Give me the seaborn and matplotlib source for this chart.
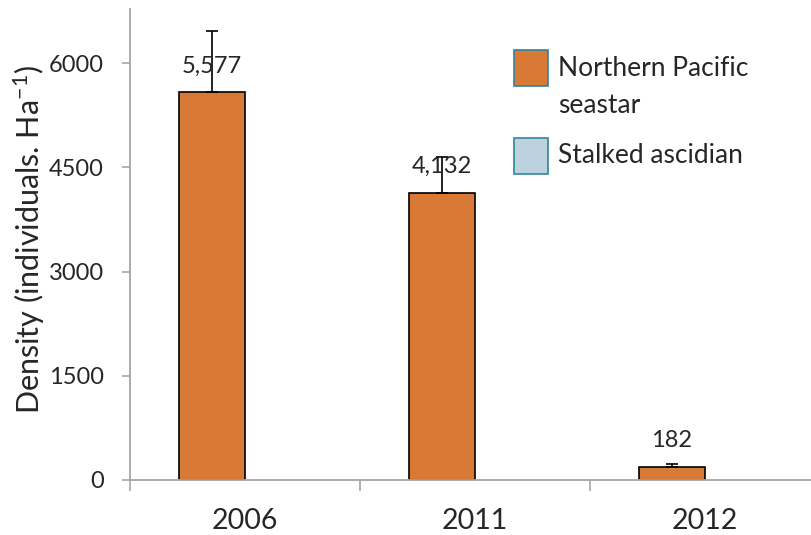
import matplotlib
matplotlib.use("Agg")
import matplotlib.pyplot as plt
import seaborn as sns
import pandas as pd
import numpy as np
from matplotlib.patches import Rectangle

years = ["2006", "2011", "2012"]
seastar = [5577, 4132, 182]
seastar_err = [880, 520, 45]
ascidian = [np.nan, np.nan, np.nan]  # no ascidian bars drawn in the source chart
series = ["Northern Pacific\nseastar", "Stalked ascidian"]
series_colors = ["#D87A35", "#BCD3DF"]

sns.set_style("white")
plt.rcParams["font.family"] = ["Lato", "DejaVu Sans"]
plt.rcParams["mathtext.default"] = "regular"

df = pd.DataFrame({
    "Year": years * 2,
    "Density": seastar + ascidian,
    "Species": [series[0]] * 3 + [series[1]] * 3,
})

W, H = 811, 535
fig = plt.figure(figsize=(W / 100, H / 100), dpi=100)
ax = fig.add_axes([130 / W, 55 / H, 690 / W, 471 / H])

sns.barplot(data=df, x="Year", y="Density", hue="Species", hue_order=series,
            palette=series_colors, width=0.574, edgecolor="black", linewidth=1.2,
            saturation=1, errorbar=None, legend=False, ax=ax)

# error bars sit on the seastar bars (left half of each group)
bar_x = [p.get_x() + p.get_width() / 2 for p in ax.patches[:len(years)]]
ax.errorbar(bar_x, seastar, yerr=[[0] * len(years), seastar_err],
            fmt="none", ecolor="black", elinewidth=1.2, capsize=4.3, capthick=1.2)

for x, v in zip(bar_x, seastar):
    ax.annotate(f"{v:,}", (x, v), xytext=(0, 19), textcoords="offset points",
                ha="center", va="center", fontsize=17)

ax.set_xlim(-0.5, 2.5)
ax.set_ylim(0, 6777)
ax.set_yticks([0, 1500, 3000, 4500, 6000])
ax.set_xticks([-0.5, 0.5, 1.5, 2.5])
ax.set_xticklabels([])
ax.set_xticks(range(len(years)), minor=True)
ax.set_xticklabels(years, minor=True, fontsize=20.5)
ax.tick_params(axis="x", which="major", direction="out", length=8, width=1.2,
               color="#A6A6A6", bottom=True)
ax.tick_params(axis="x", which="minor", length=0, pad=20)
ax.tick_params(axis="y", direction="out", length=6, width=1.2, color="#A6A6A6",
               left=True, labelsize=17, pad=13)
ax.set_xlabel("")
ax.set_ylabel("Density (individuals. Ha$^{-1}$)", fontsize=22)
ax.yaxis.set_label_coords(-0.120, 0.51)

for s in ["top", "right"]:
    ax.spines[s].set_visible(False)
for s in ["left", "bottom"]:
    ax.spines[s].set_color("#A6A6A6")
    ax.spines[s].set_linewidth(1.3)

# legend drawn by hand so the swatch sits on the first text line
for (top, color, label) in [(50, series_colors[0], series[0]),
                            (138, series_colors[1], series[1])]:
    fig.add_artist(Rectangle((514 / W, 1 - (top + 36) / H), 34 / W, 36 / H,
                             transform=fig.transFigure, facecolor=color,
                             edgecolor="#31849B", linewidth=1.2))
    fig.text(558 / W, 1 - (top + 18) / H, label.split("\n")[0], fontsize=19,
             va="center", ha="left")
    if "\n" in label:
        fig.text(558 / W, 1 - (top + 56) / H, label.split("\n")[1], fontsize=19,
                 va="center", ha="left")

fig.savefig("out.png", dpi=100)
